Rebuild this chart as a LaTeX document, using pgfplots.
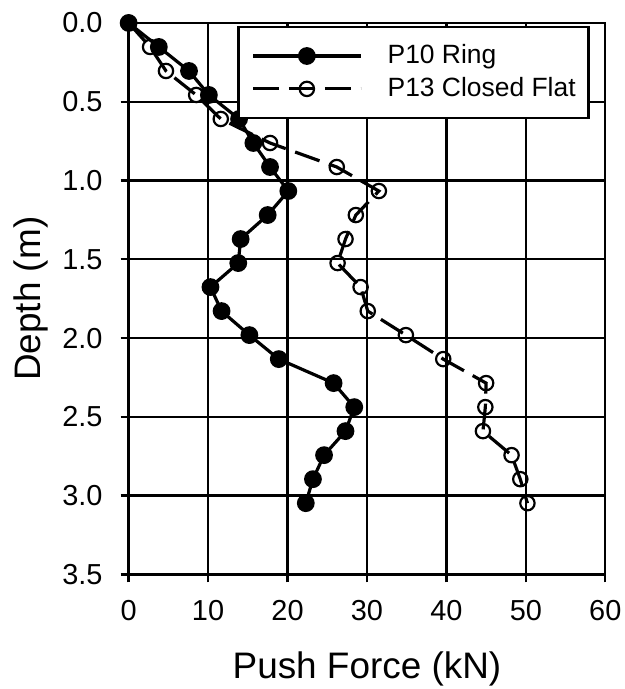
\documentclass[border=0pt]{standalone}
\usepackage{pgfplots}
\pgfplotsset{compat=1.18}
\usepackage{fontspec}
\setmainfont{Liberation Sans}

% Push force profiles with depth (depth increments of 0.1524 m)
\pgfplotstableread{
depth   force
0.0000  0.0
0.1524  3.8
0.3048  7.6
0.4572  10.1
0.6096  13.9
0.7620  15.7
0.9144  17.8
1.0668  20.1
1.2192  17.5
1.3716  14.1
1.5240  13.8
1.6764  10.3
1.8288  11.7
1.9812  15.2
2.1336  18.9
2.2860  25.8
2.4384  28.4
2.5908  27.3
2.7432  24.6
2.8956  23.2
3.0480  22.3
}\ringdata

\pgfplotstableread{
depth   force
0.0000  0.0
0.1524  2.7
0.3048  4.7
0.4572  8.5
0.6096  11.6
0.7620  17.8
0.9144  26.2
1.0668  31.5
1.2192  28.6
1.3716  27.3
1.5240  26.3
1.6764  29.2
1.8288  30.1
1.9812  34.9
2.1336  39.6
2.2860  45.0
2.4384  44.9
2.5908  44.6
2.7432  48.2
2.8956  49.3
3.0480  50.2
}\flatdata

\begin{document}
\begin{tikzpicture}
\begin{axis}[
  scale only axis,
  width=478bp, height=553bp,
  xmin=0, xmax=60, ymin=0, ymax=3.5,
  y dir=reverse,
  xtick={0,10,...,60},
  ytick={0,0.5,...,3.5},
  yticklabel style={/pgf/number format/fixed, /pgf/number format/fixed zerofill,
    /pgf/number format/precision=1},
  /pgf/number format/assume math mode=true,
  xtick pos=bottom, ytick pos=left,
  tick align=outside,
  major tick length=8bp,
  tick style={black, line width=2.3bp},
  axis line style={black, line width=2.3bp},
  grid=major,
  major grid style={black, line width=2.3bp},
  ticklabel style={font=\fontsize{29bp}{33bp}\selectfont},
  yticklabel style={anchor=east, inner sep=0pt, xshift=-18bp},
  xticklabel style={anchor=north, inner sep=0pt, yshift=-18bp},
  xlabel={Push Force (kN)},
  ylabel={Depth (m)},
  label style={font=\fontsize{37bp}{42bp}\selectfont},
  xlabel style={at={(axis description cs:0.5,-0.188)}, anchor=base},
  ylabel style={at={(axis description cs:-0.184,0.5)}, anchor=base},
  legend style={
    at={(rel axis cs:0.228,0.9946)}, anchor=north west,
    draw=black, line width=2.3bp, fill=white,
    inner xsep=13bp, inner ysep=15bp,
    font=\fontsize{26.5bp}{30bp}\selectfont,
    nodes={inner sep=0pt, text height=22bp, text depth=6bp},
    row sep=5bp,
  },
  legend cell align=left,
  legend image code/.code={
    \path[draw=none] (0bp,0bp) (135bp,0bp);
    \draw[mark repeat=2, mark phase=2] plot coordinates {(0bp,0bp) (54bp,0bp) (108bp,0bp)};
  },
]
\addplot[black, line width=3.2bp, mark=*, mark size=7.3bp,
  mark options={solid, fill=black}] table[x=force, y=depth] {\ringdata};
\addlegendentry{P10 Ring}
\addplot[black, line width=3.2bp, dash pattern=on 26bp off 10bp, mark=o, mark size=7.2bp,
  mark options={solid, fill=white, line width=2.2bp}] table[x=force, y=depth] {\flatdata};
\addlegendentry{P13 Closed Flat}
\end{axis}
\path[use as bounding box] ([xshift=-129bp,yshift=-113bp]current axis.south west)
  rectangle ([xshift=19bp,yshift=23bp]current axis.north east);
\end{tikzpicture}
\end{document}
